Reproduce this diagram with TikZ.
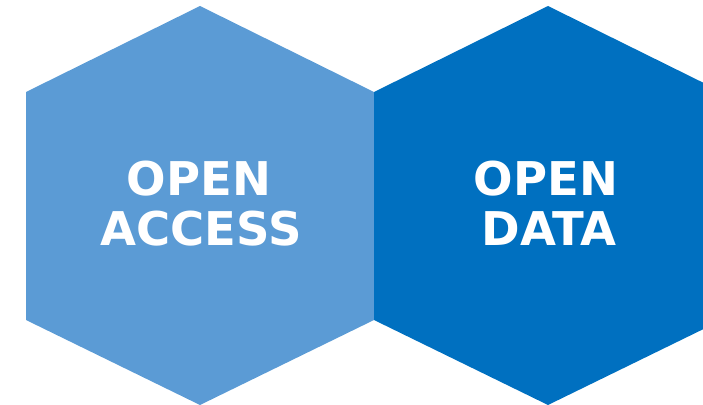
\documentclass[tikz,border=0pt]{standalone}
\usepackage{fontspec}
\setmainfont{DejaVu Sans}
\begin{document}
\begin{tikzpicture}[x=1pt,y=-1pt,
  hexlabel/.style={text=white,font=\fontsize{46.5}{50}\selectfont\bfseries,anchor=base,inner sep=0pt}]
\definecolor{lightblue}{HTML}{5B9BD5}
\definecolor{darkblue}{HTML}{0070C0}
\useasboundingbox (0,0) rectangle (703,404);
\clip (0,0) rectangle (703,404);
\fill[lightblue] (200,6) -- (374,92) -- (374,320) -- (200,405) -- (26,320) -- (26,92) -- cycle;
\fill[darkblue] (548,6) -- (722,92) -- (722,320) -- (548,405) -- (374,320) -- (374,92) -- cycle;
\node[hexlabel] (oa1) at (199,195) {OPEN};
\node[hexlabel] (oa2) at (201,245) {ACCESS};
\node[hexlabel] (od1) at (546,195) {OPEN};
\node[hexlabel] (od2) at (549,245) {DATA};
\end{tikzpicture}
\end{document}
